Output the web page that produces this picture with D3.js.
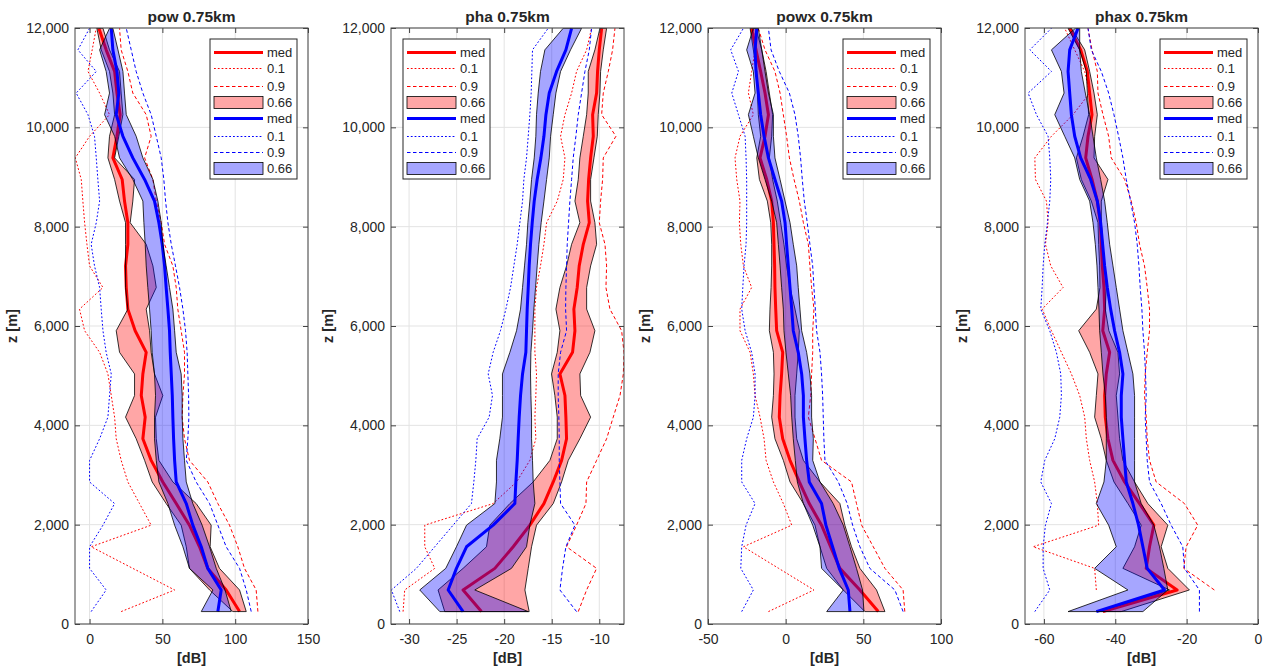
<!DOCTYPE html>
<html lang="en">
<head>
<meta charset="UTF-8">
<title>pow / pha profiles 0.75km</title>
<script src="https://cdn.jsdelivr.net/npm/d3@7"></script>
<style>
  body { margin: 0; background: #fff; }
  svg text { font-family: "Liberation Sans", Arial, Helvetica, sans-serif; fill: #262626; }
</style>
</head>
<body>
<svg id="chart" width="1266" height="667"></svg>
<script>
// height levels (m), shared by every panel
var Z = [250, 685, 1120, 1555, 1990, 2425, 2860, 3295, 3730, 4165, 4600, 5035, 5470, 5905,
         6340, 6775, 7210, 7645, 8080, 8515, 8950, 9385, 9820, 10255, 10690, 11125, 11560, 11995];
var zTicks = [0, 2000, 4000, 6000, 8000, 10000, 12000];

// ---- pow
var powRedMed = [103, 93.8, 81.2, 75.5, 68.6, 59.5, 50.3, 42.3, 36.6, 38.2, 35.5, 36.6, 38.9, 31.3, 26.3, 25.2, 24.7, 26.3, 26.3, 24, 22.4, 16, 18.8, 21, 18.8, 17.2, 11.4, 6.4];
var powRedLo  = [98.4, 82.4, 68.6, 66.4, 62.9, 52.6, 43, 37.8, 32, 24.7, 30.9, 30.9, 20.6, 18.3, 26.3, 24.7, 24.7, 24.7, 24.7, 20.6, 17.2, 12.6, 13.7, 17.2, 16, 13.7, 8, 5];
var powRedHi  = [107.6, 103, 89.2, 82.8, 83.5, 73.2, 57.2, 47.6, 45.8, 45.3, 50.3, 44.6, 42.3, 41.2, 38.9, 45.8, 43.5, 38.9, 27.9, 29.7, 30.9, 17.2, 20.1, 22.9, 21.7, 20.6, 13.7, 9.2];
var powRed10  = [21.7, 58.4, 29.7, 1.1, 42.3, 34.3, 26.3, 21.7, 18.3, 17.2, 14.9, 12.6, 6.9, -3.4, -6.9, 9.2, 0, -1.8, -3.4, -4.6, -5.7, -9.8, 0, 13.7, 6.9, -1.1, 1.8, 4.6];
var powRed90  = [115.6, 114.4, 106.4, 101.8, 96.1, 88.1, 81.2, 68.6, 65.2, 63.6, 64.1, 65.2, 65.2, 62.9, 60.6, 59.5, 57.2, 51.5, 49.2, 45.8, 43.5, 37.8, 42.3, 38.9, 29.7, 26.3, 21.7, 20.6];
var powBlueMed = [88.1, 90.4, 81.2, 76.7, 70.9, 66.4, 59.5, 58.4, 57.7, 57.2, 56.8, 56.1, 55.4, 54.9, 53.8, 52.6, 51.5, 49.9, 47.6, 44.6, 37.8, 29.7, 22.9, 18.3, 20.1, 18.8, 16, 14.9];
var powBlueLo  = [76.7, 84.7, 68.6, 64.1, 58.4, 53.8, 47.6, 45.8, 44.6, 44.6, 45.3, 44.6, 43, 42.3, 41.2, 40, 38.9, 38.2, 37.3, 36.6, 29.7, 20.6, 17.2, 10.3, 13.7, 11.4, 6.9, 13.7];
var powBlueHi  = [97.3, 93, 87, 82.4, 77.3, 70.9, 66.4, 65.2, 64.1, 63.6, 63.6, 62.9, 59.5, 58.4, 57.2, 54.9, 52.6, 50.3, 49.2, 46.9, 43.5, 36.6, 32, 25.2, 24, 22.9, 19.5, 16];
var powBlue10  = [1.1, 11.4, 0, 0, 9.2, 17.2, 0, 0, 6.9, 12.6, 13.7, 14.9, 11.4, 9.2, 8, 6.9, 3.4, 1.1, 4.6, 6.9, 5.7, 4.6, 3.4, -1.1, -9.2, 4.6, -8, 0];
var powBlue90  = [111, 107.6, 103, 93.8, 88.1, 82.4, 73.2, 66.4, 67.5, 68.2, 68, 67.5, 67, 65.9, 64.1, 61.8, 59, 56.1, 53.8, 52.2, 51, 49.2, 45.8, 42.3, 36.6, 32, 28.6, 25.2];

// ---- pha
var phaRedMed = [-22.39, -24.32, -20.98, -19.05, -17.3, -15.82, -14.84, -13.96, -13.44, -13.51, -13.61, -14.14, -12.81, -12.56, -12.67, -12.32, -12.11, -11.68, -11.05, -11.23, -11.12, -10.91, -10.63, -10.7, -10.28, -10.18, -10, -9.75];
var phaRedLo  = [-26.25, -26.95, -24.32, -21.86, -21.51, -19.4, -16.95, -15.19, -14.42, -14.42, -14.67, -15.02, -14.42, -14.14, -14.56, -14.14, -13.44, -12.91, -12.04, -12.56, -12.21, -12.04, -11.68, -11.33, -11.16, -11.16, -10.46, -9.93];
var phaRedHi  = [-17.37, -17.82, -17.47, -17.12, -16.6, -14.84, -13.96, -13.26, -12.04, -10.91, -11.96, -12.04, -10.98, -10.46, -11.33, -11.33, -10.91, -10.28, -10.46, -10.91, -10.91, -10.56, -10.21, -10.11, -9.93, -9.86, -9.58, -9.23];
var phaRed10  = [-30.63, -30.46, -27.3, -28.35, -28.35, -21.16, -18.7, -17.3, -16.67, -16.77, -16.67, -16.6, -16.77, -16.77, -16.77, -16.6, -16.18, -15.82, -15.54, -14.42, -13.79, -13.61, -14.07, -13.61, -12.91, -12.39, -11.33, -10.81];
var phaRed90  = [-12.21, -11.33, -10.28, -13.44, -12.39, -11.4, -11.33, -10.28, -9.23, -8.53, -7.82, -7.47, -7.4, -7.65, -8.88, -9.3, -9.23, -9.4, -10, -9.86, -9.65, -9.58, -8.25, -9.75, -9.58, -9.05, -8.6, -8.35];
var phaBlueMed = [-24.32, -25.89, -25.02, -23.96, -21.16, -18.88, -18.77, -18.63, -18.53, -18.42, -18.28, -18.07, -17.72, -17.65, -17.58, -17.47, -17.37, -17.23, -17.05, -16.84, -16.53, -16.14, -15.82, -15.61, -15.26, -14.49, -13.51, -12.91];
var phaBlueLo  = [-26.77, -28.88, -26.14, -25.02, -23.96, -20.98, -20.81, -20.81, -20.46, -20.18, -20.18, -20.18, -19.4, -18.7, -18.28, -18.07, -17.86, -17.65, -17.51, -17.3, -17.12, -16.84, -16.67, -16.6, -16.42, -16.18, -15.72, -13.79];
var phaBlueHi  = [-17.47, -23.09, -19.23, -17.65, -17.3, -16.77, -16.95, -17.02, -17.12, -17.12, -17.19, -17.23, -17.19, -17.02, -16.88, -16.7, -16.53, -16.35, -16.11, -15.82, -15.54, -15.26, -15.12, -14.84, -14.56, -14.07, -13.02, -11.86];
var phaBlue10  = [-30.98, -31.86, -29.23, -27.3, -25.37, -23.44, -23.19, -22.98, -22.84, -21.58, -21.23, -21.68, -21.16, -20.39, -19.82, -19.33, -18.98, -18.63, -18.35, -18.07, -17.93, -17.65, -17.47, -17.3, -17.16, -17.09, -17.02, -15.37];
var phaBlue90  = [-12.39, -14.14, -13.86, -13.51, -12.56, -14.07, -14.14, -14.21, -14.21, -14.25, -14.32, -14.32, -14.07, -13.44, -13.54, -13.51, -13.44, -13.37, -13.23, -13.09, -12.91, -12.74, -12.46, -12.21, -11.86, -11.51, -11.05, -10.81];

// ---- powx
var powxRedMed = [59.6, 47.8, 34.9, 28.9, 23.1, 15.2, 8.8, 2.8, -1.9, -4.1, -3.6, -2.6, -1.9, -5.8, -6.4, -6.9, -7.1, -7.5, -7.9, -9, -12.2, -16.5, -13.3, -11.1, -13.3, -16.1, -19.1, -21.9];
var powxRedLo  = [51, 37.1, 26.4, 22.1, 18.9, 11.4, 2.8, -1.5, -6.9, -9, -7.9, -7.5, -7.9, -10.5, -10.1, -9.4, -9, -9, -9.6, -11.8, -16.9, -18.6, -16.1, -17.6, -18.2, -18.6, -20.8, -22.9];
var powxRedHi  = [63.9, 58.5, 47.8, 42.4, 38.1, 34.9, 22.1, 11.4, 7.1, 6, 6, 7.1, 8.1, 8.8, 6, 2.8, 0.6, -1.1, -3.2, -5.4, -8.4, -10.5, -9, -8.4, -10.5, -12.6, -15.4, -19.1];
var powxRed10  = [-11.1, 18.2, -4.5, -27.2, 3.9, -1.5, -7.9, -12.6, -13.9, -16.5, -19.7, -20.8, -22.9, -29.4, -29.4, -21.9, -27.2, -28.9, -29.8, -29.4, -31.5, -32.6, -29.4, -20.8, -24, -21.9, -19.7, -20.8];
var powxRed90  = [76.7, 75.6, 63.9, 56.4, 48.9, 45.6, 42.4, 23.1, 18.9, 14.6, 16.1, 16.7, 17.4, 17.4, 18.2, 16.7, 15.6, 14.6, 11.4, 8.8, 5.4, 2.4, 0.6, -1.5, -3.6, -6.9, -13.3, -17.6];
var powxBlueMed = [41.4, 40.3, 34.5, 30.2, 25.9, 23.1, 15.2, 13.5, 12.4, 11.4, 11.4, 10.3, 8.1, 4.9, 3.9, 2.8, 1.7, 0.6, -0.4, -2.6, -6.9, -11.1, -13.9, -16.1, -17.6, -19.1, -19.7, -18.6];
var powxBlueLo  = [26.4, 37.1, 23.1, 22.1, 17.4, 11.4, 7.5, 6.2, 4.9, 3.9, 3.2, 1.7, 0.2, -1.1, -1.5, -2.6, -3.6, -4.7, -5.8, -9, -13.3, -17.6, -20.8, -24, -19.7, -20.8, -25.1, -20.8];
var powxBlueHi  = [50.4, 49.5, 45.6, 41.4, 37.1, 30.6, 22.1, 17.4, 17.8, 16.7, 16.7, 15.6, 13.5, 10.3, 9.2, 8.1, 7.1, 4.9, 2.8, -0.4, -3.6, -6.9, -7.9, -7.9, -11.1, -13.3, -15.4, -17.6];
var powxBlue10  = [-28.3, -20.8, -28.9, -28.3, -25.5, -19.7, -28.3, -28.3, -25.1, -20.8, -19.7, -19.7, -21.9, -26.1, -28.3, -27.6, -26.8, -25.5, -25.1, -25.1, -25.1, -25.5, -26.1, -30.4, -34.7, -30.4, -35.4, -27.2];
var powxBlue90  = [75.6, 70.3, 54.2, 47.8, 43.1, 39.6, 33.9, 25.3, 24.6, 24.2, 23.8, 23.1, 22.1, 19.9, 19.1, 18.2, 17.4, 15.6, 13.9, 12, 10.7, 9.6, 8.1, 6, 2.4, -4.1, -9.4, -11.1];

// ---- phax
var phaxRedMed = [-43.45, -22.67, -31.33, -30.4, -29.19, -33.2, -37.39, -40.65, -42.05, -42.8, -42.98, -42.52, -41.58, -43.5, -42.98, -43.17, -43.63, -43.91, -44.19, -45.03, -46.52, -48.29, -47.64, -46.52, -47.18, -47.83, -49.69, -52.77];
var phaxRedLo  = [-44.85, -24.81, -37.86, -34.59, -32.73, -36.46, -40.37, -42.52, -43.91, -45.78, -45.31, -44.85, -47.18, -50.25, -45.31, -44.29, -44.38, -44.66, -44.85, -46.71, -49.51, -50.9, -49.04, -47.46, -47.83, -48.11, -49.97, -53.23];
var phaxRedHi  = [-38.32, -19.22, -25.28, -27.14, -25.28, -30.87, -34.59, -37.86, -38.79, -39.25, -39.72, -38.79, -39.25, -41.8, -42.8, -42.52, -42.98, -43.45, -43.91, -43.91, -42.05, -45.96, -45.78, -45.03, -45.96, -47.18, -48.57, -52.3];
var phaxRed10  = [null, -45.31, -45.78, -63.02, -44.66, -45.03, -45.78, -47.18, -48.11, -48.57, -49.97, -52.3, -55.1, -57.89, -60.5, -54.63, -58.08, -59.57, -58.83, -59.29, -62.37, -62.55, -57.89, -51.84, -47.18, -48.57, -51.37, -54.17];
var phaxRed90  = [null, -12.23, -20.8, -20.15, -16.89, -20.62, -28.54, -30.4, -31.05, -31.33, -31.8, -31.61, -31.05, -30.4, -30.4, -31.05, -31.8, -33.2, -34.13, -35.53, -37.39, -41.12, -41.86, -43.45, -44.85, -45.03, -46.52, -47.64];
var phaxBlueMed = [-45.31, -26.21, -31.05, -32.26, -33.48, -35.06, -36.92, -37.39, -37.86, -38.32, -38.32, -37.86, -38.79, -40.19, -41.3, -42.24, -42.98, -43.54, -44.1, -45.03, -46.9, -49.69, -51.37, -52.3, -52.77, -53.23, -52.77, -50.44];
var phaxBlueLo  = [-53.23, -36.46, -45.78, -39.72, -41.86, -45.31, -43.17, -42.52, -42.52, -42.52, -42.8, -43.45, -43.91, -44.38, -44.57, -44.85, -45.13, -45.59, -46.24, -47.18, -49.97, -51.37, -54.17, -56.96, -54.35, -55.1, -57.89, -51.18];
var phaxBlueHi  = [-32.26, -25.28, -26.39, -27.6, -29.19, -32.73, -34.59, -34.59, -34.59, -34.59, -34.59, -35.06, -36.46, -37.86, -38.79, -39.72, -40.65, -41.58, -42.24, -42.98, -44.1, -45.31, -46.24, -47.18, -48.39, -49.51, -49.97, -49.97];
var phaxBlue10  = [-62.55, -58.36, -60.22, -60.22, -59.57, -57.89, -60.88, -59.76, -56.96, -55.56, -55.1, -55.28, -56.5, -58.36, -60.88, -60.5, -60.22, -59.76, -59.01, -58.36, -58.08, -58.36, -58.83, -62.09, -64.42, -57.89, -63.95, -57.89];
var phaxBlue90  = [-16.42, -16.42, -20.62, -21.08, -24.34, -27.14, -30.4, -31.05, -31.33, -31.61, -31.33, -31.52, -31.8, -32.26, -32.54, -33.01, -33.38, -33.85, -34.59, -35.71, -36.92, -37.86, -39.07, -40.37, -41.86, -43.91, -46.71, -47.64];

var titles  = ["pow 0.75km", "pha 0.75km", "powx 0.75km", "phax 0.75km"];
var domains = [[-10, 150], [-31.9, -7.4], [-50, 100], [-65.3, 0]];
var xTicks  = [[0, 50, 100, 150], [-30, -25, -20, -15, -10], [-50, 0, 50, 100], [-60, -40, -20, 0]];
var legendSide = ["right", "left", "right", "right"];
var legendLabels = ["med", "0.1", "0.9", "0.66", "med", "0.1", "0.9", "0.66"];

var panels = [
  {red: [powRedMed, powRed10, powRed90, powRedLo, powRedHi], blue: [powBlueMed, powBlue10, powBlue90, powBlueLo, powBlueHi]},
  {red: [phaRedMed, phaRed10, phaRed90, phaRedLo, phaRedHi], blue: [phaBlueMed, phaBlue10, phaBlue90, phaBlueLo, phaBlueHi]},
  {red: [powxRedMed, powxRed10, powxRed90, powxRedLo, powxRedHi], blue: [powxBlueMed, powxBlue10, powxBlue90, powxBlueLo, powxBlueHi]},
  {red: [phaxRedMed, phaxRed10, phaxRed90, phaxRedLo, phaxRedHi], blue: [phaxBlueMed, phaxBlue10, phaxBlue90, phaxBlueLo, phaxBlueHi]}
];

// layout
var lefts = [75, 391, 708, 1025];
var W = 233, TOP = 28, BOTTOM = 624;
var RED = "#ff0000", BLUE = "#0000ff";
var DASH10 = "1.8,2", DASH90 = "3.5,2.5";

var svg = d3.select("#chart");
var y = d3.scaleLinear().domain([0, 12000]).range([BOTTOM, TOP]);

function rows(arr) { return Z.map(function(z, i) { return {z: z, v: arr[i]}; }); }
function bandRows(lo, hi) { return Z.map(function(z, i) { return {z: z, lo: lo[i], hi: hi[i]}; }); }

function drawSeries(g, x, s, color) {
  var line = d3.line().defined(function(d) { return d.v != null; })
      .x(function(d) { return x(d.v); }).y(function(d) { return y(d.z); });
  var area = d3.area()
      .y(function(d) { return y(d.z); })
      .x0(function(d) { return x(d.lo); })
      .x1(function(d) { return x(d.hi); });
  g.append("path").datum(rows(s[0])).attr("d", line)
      .attr("fill", "none").attr("stroke", color).attr("stroke-width", 3).attr("stroke-linejoin", "round");
  g.append("path").datum(rows(s[1])).attr("d", line)
      .attr("fill", "none").attr("stroke", color).attr("stroke-width", 1).attr("stroke-dasharray", DASH10);
  g.append("path").datum(rows(s[2])).attr("d", line)
      .attr("fill", "none").attr("stroke", color).attr("stroke-width", 1).attr("stroke-dasharray", DASH90);
  g.append("path").datum(bandRows(s[3], s[4])).attr("d", area)
      .attr("fill", color).attr("fill-opacity", 0.35).attr("stroke", "#000").attr("stroke-width", 0.8);
}

panels.forEach(function(p, i) {
  var left = lefts[i];
  var x = d3.scaleLinear().domain(domains[i]).range([left, left + W]);
  var g = svg.append("g");

  g.append("clipPath").attr("id", "clip" + i).append("rect")
      .attr("x", left).attr("y", TOP).attr("width", W).attr("height", BOTTOM - TOP);

  // grid
  g.selectAll(".gx").data(xTicks[i]).join("line")
      .attr("x1", function(d) { return x(d); }).attr("x2", function(d) { return x(d); })
      .attr("y1", TOP).attr("y2", BOTTOM).attr("stroke", "#e3e3e3").attr("stroke-width", 1);
  g.selectAll(".gy").data(zTicks).join("line")
      .attr("x1", left).attr("x2", left + W)
      .attr("y1", function(d) { return y(d); }).attr("y2", function(d) { return y(d); })
      .attr("stroke", "#e3e3e3").attr("stroke-width", 1);

  var dg = g.append("g").attr("clip-path", "url(#clip" + i + ")");
  drawSeries(dg, x, p.red, RED);
  drawSeries(dg, x, p.blue, BLUE);

  // axes (ticks inward, on all four sides)
  var fs = "14px";
  var ax = g.append("g").attr("transform", "translate(0," + BOTTOM + ")")
      .call(d3.axisBottom(x).tickValues(xTicks[i]).tickSizeInner(-5).tickSizeOuter(0).tickPadding(10));
  var axT = g.append("g").attr("transform", "translate(0," + TOP + ")")
      .call(d3.axisTop(x).tickValues(xTicks[i]).tickSizeInner(-5).tickSizeOuter(0).tickFormat(""));
  var ay = g.append("g").attr("transform", "translate(" + left + ",0)")
      .call(d3.axisLeft(y).tickValues(zTicks).tickSizeInner(-5).tickSizeOuter(0).tickPadding(6).tickFormat(d3.format(",")));
  var ayR = g.append("g").attr("transform", "translate(" + (left + W) + ",0)")
      .call(d3.axisRight(y).tickValues(zTicks).tickSizeInner(-5).tickSizeOuter(0).tickFormat(""));
  [ax, axT, ay, ayR].forEach(function(a) {
    a.select(".domain").remove();
    a.selectAll(".tick line").attr("stroke", "#444");
    a.selectAll("text").attr("font-size", fs).attr("fill", "#262626")
        .attr("font-family", "'Liberation Sans', Arial, sans-serif");
  });
  ax.selectAll("text").text(function(d) { return d < 0 ? "-" + Math.abs(d) : d; });

  g.append("rect").attr("x", left).attr("y", TOP).attr("width", W).attr("height", BOTTOM - TOP)
      .attr("fill", "none").attr("stroke", "#444").attr("stroke-width", 1);

  // labels
  g.append("text").attr("x", left + W / 2).attr("y", 22).attr("text-anchor", "middle")
      .attr("font-size", "15.5px").attr("font-weight", "bold").attr("fill", "#000").text(titles[i]);
  g.append("text").attr("x", left + W / 2).attr("y", 663).attr("text-anchor", "middle")
      .attr("font-size", "14.5px").attr("font-weight", "bold").text("[dB]");
  g.append("text").attr("transform", "translate(" + (left - 58) + "," + ((TOP + BOTTOM) / 2) + ") rotate(-90)")
      .attr("text-anchor", "middle").attr("font-size", "14.5px").attr("font-weight", "bold").text("z [m]");

  // legend
  var lw = 87, lh = 140;
  var lx = legendSide[i] == "right" ? left + W - 11 - lw : left + 12;
  var ly = 39;
  var lg = g.append("g").attr("transform", "translate(" + lx + "," + ly + ")");
  lg.append("rect").attr("width", lw).attr("height", lh).attr("fill", "#fff").attr("stroke", "#262626").attr("stroke-width", 1);
  legendLabels.forEach(function(lab, k) {
    // keep thin sample lines on even pixel rows so they stay crisp
    var row = 2 * Math.round((ly + 12.7 + k * 16.75) / 2);
    var cy = row - ly + 0.5;
    var color = k < 4 ? RED : BLUE;
    var kind = k % 4;
    if (kind == 3) {
      lg.append("rect").attr("x", 4).attr("y", cy - 6).attr("width", 49).attr("height", 12)
          .attr("fill", color).attr("fill-opacity", 0.35).attr("stroke", "#000").attr("stroke-width", 0.8);
    } else {
      lg.append("line").attr("x1", 4).attr("x2", 53).attr("y1", cy).attr("y2", cy)
          .attr("stroke", color).attr("stroke-width", kind == 0 ? 3 : 1)
          .attr("stroke-dasharray", kind == 1 ? DASH10 : kind == 2 ? DASH90 : null);
    }
    lg.append("text").attr("x", 57).attr("y", cy + 4.6).attr("font-size", "13px").attr("fill", "#000").text(lab);
  });
});
</script>
</body>
</html>
